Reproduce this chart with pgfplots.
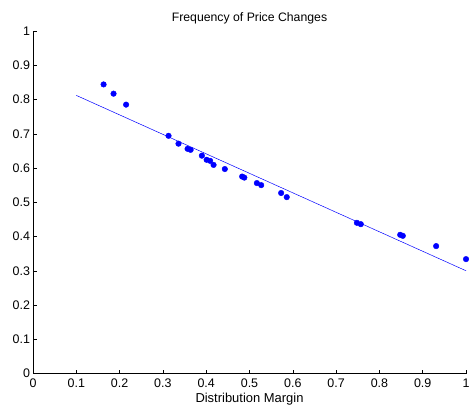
\documentclass[border=0pt]{standalone}
\usepackage{pgfplots}
\pgfplotsset{compat=1.18}
\usepackage{fontspec}
\setmainfont{Liberation Sans}

\begin{document}
\begin{tikzpicture}[x=1bp,y=1bp]
\useasboundingbox (-33,-34.5) rectangle (436,373.5);
\begin{axis}[
    at={(0,0)}, anchor=origin,
    scale only axis,
    width=433bp, height=342.5bp,
    xmin=0, xmax=1, ymin=0, ymax=1,
    axis x line=bottom, axis y line=left,
    axis line style={-, black, line width=0.5pt},
    tick align=inside,
    major tick length=3.5bp,
    tick style={black, line width=0.5pt},
    xtick={0,0.1,...,1}, ytick={0,0.1,...,1},
    xticklabels={0,0.1,0.2,0.3,0.4,0.5,0.6,0.7,0.8,0.9,1},
    yticklabels={0,0.1,0.2,0.3,0.4,0.5,0.6,0.7,0.8,0.9,1},
    ticklabel style={font=\fontsize{12.5}{14}\selectfont},
    xticklabel style={yshift=-2bp},
    yticklabel style={xshift=0.5bp},
    title={Frequency of Price Changes},
    title style={font=\fontsize{12.3}{14}\selectfont, yshift=-3bp},
    xlabel={Distribution Margin},
    xlabel style={font=\fontsize{13}{14}\selectfont, yshift=1.5bp},
    clip=false,
]
\addplot[only marks, mark=*, mark size=2.8bp, color=blue] coordinates {
(0.163,0.844) (0.186,0.817) (0.215,0.785) (0.313,0.694) (0.336,0.671)
(0.357,0.656) (0.364,0.653) (0.390,0.636) (0.401,0.624) (0.409,0.621)
(0.417,0.609) (0.443,0.597) (0.483,0.575) (0.488,0.572) (0.517,0.556)
(0.527,0.550) (0.573,0.527) (0.586,0.515) (0.748,0.440) (0.757,0.436)
(0.848,0.405) (0.854,0.402) (0.931,0.372) (1.000,0.334)
};
\addplot[color=blue, line width=0.5pt] coordinates {(0.1,0.812) (1.0,0.300)};
\end{axis}
\end{tikzpicture}
\end{document}
